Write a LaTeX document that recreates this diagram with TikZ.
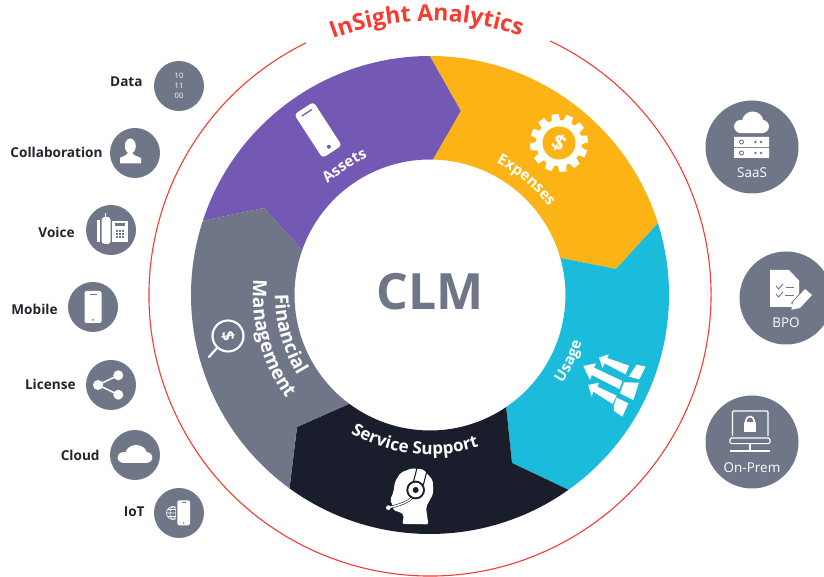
\documentclass[tikz,border=0pt]{standalone}
\usepackage{fontspec}
\setmainfont{Open Sans}
\usepackage{tikz}
\usetikzlibrary{calc, positioning, decorations.text}

\definecolor{ringred}{HTML}{F93A30}
\definecolor{slategrey}{HTML}{6F7687}
\definecolor{assetspurple}{HTML}{7359B3}
\definecolor{expensesyellow}{HTML}{FBB316}
\definecolor{usagecyan}{HTML}{1BBBDB}
\definecolor{supportdark}{HTML}{1A1D2B}
\definecolor{labelink}{HTML}{23252E}

\newcommand{\ringfont}{\color{white}\bfseries\fontsize{15}{18}\selectfont}
\newcommand{\widefont}{\color{white}\bfseries\fontsize{17}{20}\selectfont}
\newcommand{\tallfont}{\color{white}\bfseries\fontsize{19}{22}\selectfont}
\newcommand{\titlefont}{\color{ringred}\bfseries\fontsize{23}{26}\selectfont}
\newcommand{\cloudshape}{
  (-9,-2.5) circle[radius=5.5] (1,1) circle[radius=9] (9,-2.5) circle[radius=5.5]
  (9,-8) rectangle (-9,-2)
}

\tikzset{
  smallcirc/.style={circle, fill=slategrey, minimum size=50pt, inner sep=0pt, text=white, align=center},
  bigcirc/.style={circle, fill=slategrey, minimum size=93pt, inner sep=0pt},
  sidelabel/.style={text=labelink, font=\bfseries\fontsize{13.6}{16}\selectfont, inner sep=0pt},
  iconlabel/.style={text=white, font=\fontsize{13.5}{16}\selectfont, inner sep=0pt},
  dollar/.style={text=white, font=\bfseries\fontsize{22}{24}\selectfont, inner sep=0pt},
  ringtext/.style={postaction={decorate}, decoration={text along path, text={|\ringfont|#1}, text align=center}},
  widetext/.style={postaction={decorate}, decoration={text along path, text={|\widefont|#1}, text align=center}},
  talltext/.style={postaction={decorate}, decoration={text along path, text={|\tallfont|#1}, text align=center}},
  titletext/.style={postaction={decorate}, decoration={text along path, text={|\titlefont|#1}, text align=center}}
}

\begin{document}
\begin{tikzpicture}[x=1pt, y=1pt]
\useasboundingbox (0,0) rectangle (824,577);
\coordinate (hub) at (430,282);

% Outer red ring and its title
\draw[ringred, line width=1.1pt] ($(hub)+(116.2:281)$) arc[start angle=116.2, end angle=424.7, radius=281];
\path[titletext={InSight Analytics}] ($(hub)+(115.7:274)$) arc[start angle=115.7, end angle=65.7, radius=274];

% Ring segments
\fill[assetspurple] ($(hub)+(90:239)$) arc[start angle=90, end angle=161.9, radius=239] -- (264,369)
  -- ($(hub)+(160.6:135.5)$) arc[start angle=160.6, end angle=88.7, radius=135.5] -- (461,466) -- cycle;
\fill[expensesyellow] ($(hub)+(90:239)$) arc[start angle=90, end angle=17.5, radius=239] -- (616,308)
  -- ($(hub)+(15.9:135.5)$) arc[start angle=15.9, end angle=88.7, radius=135.5] -- (461,466) -- cycle;
\fill[usagecyan] ($(hub)+(17.5:239)$) arc[start angle=17.5, end angle=-54.6, radius=239] -- (512,114)
  -- ($(hub)+(-55.8:135.5)$) arc[start angle=-55.8, end angle=15.9, radius=135.5] -- (616,308) -- cycle;
\fill[supportdark] ($(hub)+(-54.6:239)$) arc[start angle=-54.6, end angle=-126, radius=239] -- (297,150)
  -- ($(hub)+(-126.6:135.5)$) arc[start angle=-126.6, end angle=-55.8, radius=135.5] -- (512,114) -- cycle;
\fill[slategrey] ($(hub)+(161.9:239)$) arc[start angle=161.9, end angle=234, radius=239] -- (297,150)
  -- ($(hub)+(233.4:135.5)$) arc[start angle=233.4, end angle=160.6, radius=135.5] -- (264,369) -- cycle;

% Centre text
\node[text=slategrey, font=\bfseries\fontsize{50}{54}\selectfont, inner sep=0pt] (clm) at (430,285) {CLM};

% Segment labels
\path[ringtext={Assets}] ($(hub)+(145:151)$) arc[start angle=145, end angle=102, radius=151];
\path[ringtext={Expenses}] ($(hub)+(75:148)$) arc[start angle=75, end angle=25, radius=148];
\path[ringtext={Usage}] ($(hub)+(-45:159)$) arc[start angle=-45, end angle=-6, radius=159];
\path[widetext={Service Support}] ($(hub)+(225:159.5)$) arc[start angle=225, end angle=303, radius=159.5];
\path[talltext={Financial}] ($(hub)+(165:155)$) arc[start angle=165, end angle=226, radius=155];
\path[talltext={Management}] ($(hub)+(165:177)$) arc[start angle=165, end angle=226, radius=177];

% Assets phone
\begin{scope}[shift={(318,447)}, rotate=33]
  \fill[white, rounded corners=3.5] (-11.5,-26) rectangle (11.5,26);
  \draw[assetspurple, line width=1.3pt] (-6,20.5) -- (6,20.5);
  \fill[assetspurple] (0,-20) circle[radius=2];
\end{scope}

% Expenses gear
\begin{scope}[shift={(559,434)}]
  \fill[white] (0,0) circle[radius=23];
  \foreach \toothang in {0,30,...,330}
    \fill[white, rotate=\toothang+8] (20,-4.5) -- (29,-3.5) -- (29,3.5) -- (20,4.5) -- cycle;
  \fill[expensesyellow] (0,0) circle[radius=16.5];
\end{scope}
\node[dollar, rotate=-30] (gearsign) at (559,434) {\$};

% Usage arrows and panels
\begin{scope}[shift={(480,357)}, x=0.3333pt, y=-0.3333pt]
  \fill[white] (357,413) -- (386,403) -- (382,414) -- (447,437) -- (437,463) -- (373,430) -- (368,445) -- cycle;
  \fill[white] (310,438) -- (348,430) -- (342,443) -- (427,483) -- (418,507) -- (335,465) -- (330,480) -- cycle;
  \fill[white] (325,495) -- (357,488) -- (352,500) -- (410,527) -- (398,552) -- (340,515) -- (335,530) -- cycle;
  \fill[white] (446,470) -- (470,434) -- (497,440) -- (478,478) -- cycle;
  \fill[white] (432,487) -- (477,488) -- (460,540) -- (420,520) -- cycle;
  \fill[white] (410,533) -- (445,550) -- (427,590) -- (402,573) -- (402,555) -- cycle;
\end{scope}

% Service Support headset
\begin{scope}[shift={(280,187)}, x=0.3333pt, y=-0.3333pt]
  \fill[white, rounded corners=2pt] (367,402) -- (372,375) -- (358,365) -- (340,362) -- (338,345) -- (330,330)
    -- (340,308) -- (345,275) -- (362,248) -- (395,235) -- (430,238) -- (458,270) -- (460,310) -- (438,352) -- (445,403) -- cycle;
  \draw[supportdark, line width=1.1pt] (412,230) -- (398,285);
  \draw[supportdark, line width=1.1pt] (442,238) -- (430,285);
  \draw[supportdark, line width=2.6pt] (405,310) .. controls (395,335) and (360,345) .. (325,353);
  \draw[white, line width=1.4pt] (405,310) .. controls (395,335) and (360,345) .. (325,353);
  \fill[supportdark] (407,300) circle[radius=28];
  \fill[white] (407,300) circle[radius=22];
  \fill[supportdark] (407,300) circle[radius=9];
  \fill[white] (325,353) circle[radius=7];
\end{scope}

% Financial Management magnifier
\draw[white, line width=2.1pt] (228,241) circle[radius=15.5];
\draw[white, line width=2.2pt, line cap=round] (217,229) -- (209,220);
\node[dollar, rotate=-80, font=\bfseries\fontsize{17}{18}\selectfont] (magsign) at (228,241) {\$};

% Left hand circles
\node[smallcirc, font=\fontsize{7.5}{10}\selectfont] (data) at (179,491) {10\\11\\00};
\node[smallcirc] (collab) at (135,424) {};
\node[smallcirc] (voice) at (111,347) {};
\node[smallcirc] (mobile) at (93,270) {};
\node[smallcirc] (license) at (111,192) {};
\node[smallcirc] (cloud) at (135,122) {};
\node[smallcirc] (iot) at (179,64) {};

\node[sidelabel, left=11pt of data, yshift=4pt] (datatext) {Data};
\node[sidelabel, left=7pt of collab, yshift=1pt] (collabtext) {Collaboration};
\node[sidelabel, left=11pt of voice, yshift=-2pt] (voicetext) {Voice};
\node[sidelabel, left=10pt of mobile, yshift=-2pt] (mobiletext) {Mobile};
\node[sidelabel, left=10pt of license, yshift=1pt] (licensetext) {License};
\node[sidelabel, left=10pt of cloud] (cloudtext) {Cloud};
\node[sidelabel, left=9pt of iot, yshift=1pt] (iottext) {IoT};

% Collaboration person
\begin{scope}[shift={(collab)}]
  \fill[white] (-4.7,7) ellipse[x radius=5.5, y radius=7.5];
  \fill[white] (-15,-10.5) -- (-15,-5) -- (-9,-2) -- (-7,0) -- (-2.5,0) -- (-1,-2) -- (6,-5) -- (6,-10.5) -- cycle;
\end{scope}

% Voice telephone
\begin{scope}[shift={(voice)}]
  \fill[white, rounded corners=3] (-9.3,13) rectangle (-0.3,-14);
  \fill[white] (-13.7,10) rectangle (-11,-12);
  \fill[white] (-6.2,12) rectangle (-5.4,17);
  \fill[white] (1,9.3) rectangle (16.7,-11.7);
  \fill[slategrey] (3.5,7) rectangle (14,3.5);
  \foreach \keyrow in {0,1,2}
    \foreach \keycol in {0,1,2}
      \fill[slategrey] (4.5+\keycol*3.3,0-\keyrow*3.2) rectangle ++(2,-2);
\end{scope}

% Mobile phone
\begin{scope}[shift={(mobile)}]
  \fill[white, rounded corners=2] (-8.5,16) rectangle (8.5,-16);
  \draw[slategrey, line width=0.8pt] (-3.5,13) -- (3.5,13);
  \fill[slategrey] (0,-13) circle[radius=1];
\end{scope}

% License share symbol
\begin{scope}[shift={(license)}]
  \draw[white, line width=1.5pt] (7.3,9.7) -- (-13,0) -- (7.3,-9.7);
  \fill[white] (-13,0) circle[radius=5] (7.3,9.7) circle[radius=5] (7.3,-9.7) circle[radius=5];
\end{scope}

% Cloud
\begin{scope}[shift={(cloud)}]
  \fill[white, xscale=1.2] \cloudshape;
\end{scope}

% IoT globe and phone
\begin{scope}[shift={(iot)}]
  \draw[white, line width=0.6pt] (-6,0) circle[radius=6.5] (-6,0) ellipse[x radius=3, y radius=6.5]
    (-12.5,0) -- (0.5,0) (-11.5,3.5) -- (-0.5,3.5) (-11.5,-3.5) -- (-0.5,-3.5);
  \fill[slategrey] (-3,13.5) rectangle (12,-13);
  \fill[white, rounded corners=1.5] (-1.7,12.7) rectangle (11,-12.3);
  \draw[slategrey, line width=0.6pt] (2.5,10.5) -- (7,10.5);
  \fill[slategrey] (4.7,-10) circle[radius=0.8];
\end{scope}

% Right hand circles
\node[bigcirc] (saas) at (752,430) {};
\node[bigcirc] (bpo) at (786,279) {};
\node[bigcirc] (onprem) at (752,135) {};

\node[iconlabel] (saastext) at ($(saas)+(0,-26)$) {SaaS};
\node[iconlabel] (bpotext) at ($(bpo)+(0,-24.5)$) {BPO};
\node[iconlabel] (onpremtext) at ($(onprem)+(0,-25.7)$) {On-Prem};

% SaaS cloud and server
\begin{scope}[shift={(saas)}]
  \fill[white, xshift=-0.5pt, yshift=23.5pt, xscale=1.2, yscale=1.2] \cloudshape;
  \fill[white] (-18,10) rectangle (17,0) (-18,-0.8) rectangle (17,-11);
  \foreach \rowy in {5,-6} {
    \draw[slategrey, line width=0.9pt] (-10.5,\rowy) circle[radius=2];
    \fill[slategrey] (3.5,\rowy) circle[radius=1.3] (9,\rowy) circle[radius=1.3];
  }
\end{scope}

% BPO document and pencil
\begin{scope}[shift={(bpo)}]
  \fill[white] (-16,28) -- (3,28) -- (13,17.5) -- (13,-9) -- (-16,-9) -- cycle;
  \draw[slategrey, line width=0.9pt] (-10,12) -- (-7.5,9) -- (-3,14) (-10,4) -- (-7.5,1) -- (-3,6);
  \draw[slategrey, line width=0.9pt] (0,11) -- (8,11) (-1,3) -- (8,3);
  \fill[slategrey] (5,-5) -- (20,12) -- (30,4) -- (15,-14) -- cycle;
  \fill[white] (5.3,-11.7) -- (7,-4) -- (19,9) -- (26,3) -- (14,-10) -- cycle;
\end{scope}

% On-Prem laptop with lock
\begin{scope}[shift={(onprem)}]
  \draw[white, line width=1.3pt, rounded corners=1] (-19.5,6) -- (-19.5,31) -- (16,31) -- (16,6);
  \draw[white, line width=1.1pt, rounded corners=1.5] (-22,4) rectangle (18,-1.7);
  \draw[white, line width=1.1pt] (-2,-2) -- (-2,-9) (-22,-9) -- (18,-9);
  \fill[white] (-8.3,20) rectangle (4.3,10);
  \draw[white, line width=1.6pt] (-6,20) -- (-6,21.5) arc[start angle=180, end angle=0, radius=4] -- (2,20);
\end{scope}

\end{tikzpicture}
\end{document}
